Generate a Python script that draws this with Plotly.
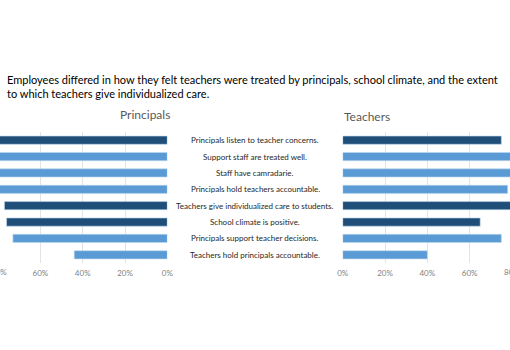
import plotly.graph_objects as go

categories = [
    "Principals listen to teacher concerns.",
    "Support staff are treated well.",
    "Staff have camradarie.",
    "Principals hold teachers accountable.",
    "Teachers give individualized care to students.",
    "School climate is positive.",
    "Principals support teacher decisions.",
    "Teachers hold principals accountable.",
]
principals = [0.90, 0.88, 0.86, 0.84, 0.77, 0.76, 0.73, 0.44]
teachers = [0.75, 0.86, 0.84, 0.78, 0.83, 0.65, 0.75, 0.40]
highlight = [True, False, False, False, True, True, False, False]
tick_vals = [0, 0.2, 0.4, 0.6]
tick_text = ["0%", "20%", "40%", "60%"]
edge_tick = "80%"

DARK = "#1F4E79"
LIGHT = "#5B9BD5"
colors = [DARK if h else LIGHT for h in highlight]
FONT = "Lato"

TOP, BOTTOM = 132, 263
H = BOTTOM - TOP


def py(pix):
    return (BOTTOM - pix) / H


fig = go.Figure()
fig.add_trace(go.Bar(y=categories, x=principals, orientation="h", xaxis="x", yaxis="y",
                     marker=dict(color=colors, line=dict(color="#BDD7EE", width=0.6)),
                     width=0.5, showlegend=False))
fig.add_trace(go.Bar(y=categories, x=teachers, orientation="h", xaxis="x2", yaxis="y",
                     marker=dict(color=colors, line=dict(color="#BDD7EE", width=0.6)),
                     width=0.5, showlegend=False))

axis_common = dict(tickvals=tick_vals, ticktext=tick_text, showgrid=True, gridcolor="#E3E3E3",
                   gridwidth=1, zeroline=False, showline=False, ticks="", ticklabelstandoff=4,
                   automargin=False,
                   tickfont=dict(family=FONT, size=8, color="#7F7F7F"))
fig.update_layout(
    width=510, height=350,
    margin=dict(l=0, r=0, t=TOP, b=350 - BOTTOM, autoexpand=False),
    plot_bgcolor="white", paper_bgcolor="white",
    xaxis=dict(domain=[0, 167.3 / 510], range=[0.791, 0], **axis_common),
    xaxis2=dict(domain=[342.7 / 510, 1], range=[0, 0.791], anchor="y", **axis_common),
    yaxis=dict(categoryorder="array", categoryarray=categories[::-1], showticklabels=False,
               showgrid=False, zeroline=False, range=[-0.5, 7.5], automargin=False),
    bargap=0.5,
)

ann = []
for c in categories:
    ann.append(dict(x=0.5, xref="paper", y=c, yref="y", text=c, showarrow=False,
                    font=dict(family=FONT, size=8, color="#262626"), xanchor="center"))
ann.append(dict(x=5 / 510, xref="paper", y=py(86), yref="paper", yanchor="middle",
                xanchor="left", align="left", showarrow=False,
                text="Employees differed in how they felt teachers were treated by principals, school climate, and the extent<br>to which teachers give individualized care.",
                font=dict(family=FONT, size=11, color="#000000")))
ann.append(dict(x=145 / 510, xref="paper", y=py(115), yref="paper", text="Principals",
                showarrow=False, xanchor="center", yanchor="middle",
                font=dict(family=FONT, size=12, color="#595959")))
ann.append(dict(x=342 / 510, xref="paper", y=py(116), yref="paper", text="Teachers",
                showarrow=False, xanchor="left", yanchor="middle",
                font=dict(family=FONT, size=12, color="#595959")))
# 80% labels partially visible at the cropped edges
ann.append(dict(x=-1 / 510, xref="paper", y=py(272), yref="paper", text=edge_tick,
                showarrow=False, xanchor="center", yanchor="middle",
                font=dict(family=FONT, size=8, color="#7F7F7F")))
ann.append(dict(x=512 / 510, xref="paper", y=py(272), yref="paper", text=edge_tick,
                showarrow=False, xanchor="center", yanchor="middle",
                font=dict(family=FONT, size=8, color="#7F7F7F")))
fig.update_layout(annotations=ann)

fig.write_html("out.html")
